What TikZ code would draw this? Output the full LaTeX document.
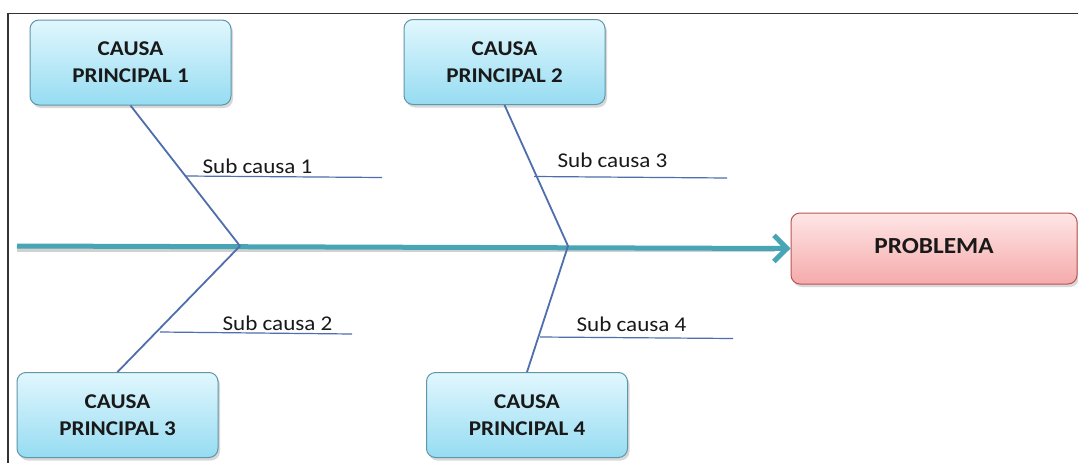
\documentclass[tikz,border=0pt]{standalone}
\usepackage{fontspec}
\setmainfont[FakeStretch=1.1]{Carlito}
\usetikzlibrary{arrows.meta,shadows,calc}
\definecolor{boxborder}{RGB}{95,150,170}
\definecolor{boxtop}{RGB}{225,247,253}
\definecolor{boxbot}{RGB}{150,220,242}
\definecolor{probborder}{RGB}{185,85,85}
\definecolor{probtop}{RGB}{255,230,230}
\definecolor{probbot}{RGB}{245,170,170}
\definecolor{spine}{RGB}{72,165,182}
\definecolor{bone}{RGB}{78,110,172}
\definecolor{txt}{RGB}{25,25,25}
\tikzset{
  causebox/.style={draw=boxborder, line width=1pt, rounded corners=9pt,
    top color=boxtop, bottom color=boxbot, minimum width=201pt, minimum height=85pt,
    align=center, text=txt, font=\fontsize{21}{28}\selectfont\bfseries,
    drop shadow={shadow xshift=2pt, shadow yshift=-3pt, opacity=0.3}},
  probbox/.style={causebox, draw=probborder, top color=probtop, bottom color=probbot,
    minimum width=286pt, minimum height=71pt, font=\fontsize{23}{28}\selectfont\bfseries},
  boneline/.style={draw=bone, line width=1.8pt},
  subline/.style={draw=bone, line width=1.2pt},
  sublabel/.style={font=\fontsize{21}{24}\selectfont, text=txt, inner sep=0pt},
  spineline/.style={draw=spine, line width=5pt,
    -{Straight Barb[length=13pt, width=26pt, line width=5pt]}},
  spineshadow/.style={draw=black, opacity=0.18, line width=5pt},
}
\begin{document}
\begin{tikzpicture}[x=1pt, y=-1pt]
\useasboundingbox (0,0) rectangle (1078,463);
\fill[white] (0,0) rectangle (1078,463);
% frame
\draw[black!80, line width=1.5pt] (8,463) -- (8,13.5) -- (1078,13.5);
% nodes
\node[causebox] (cp1) at (130.5,62.5) {CAUSA\\[-1pt]PRINCIPAL 1};
\node[causebox] (cp2) at (504.5,62) {CAUSA\\[-1pt]PRINCIPAL 2};
\node[causebox] (cp3) at (117.5,415) {CAUSA\\[-1pt]PRINCIPAL 3};
\node[causebox] (cp4) at (527,415) {CAUSA\\[-1pt]PRINCIPAL 4};
\node[probbox] (prob) at (934,248.5) {\raisebox{6pt}{PROBLEMA}};
% junctions
\coordinate (start) at (17,246);
\coordinate (startsh) at (17,249);
\coordinate (endsh) at (775,249);
\coordinate (j1) at (240,246);
\coordinate (j2) at (568,246);
% spine
\draw[spineshadow] (startsh) -- (endsh);
\draw[spineline] (start) -- (prob.west);
% bones
\draw[boneline] (cp1.south) -- (j1);
\draw[boneline] (cp2.south) -- (j2);
\draw[boneline] (cp3.north) -- (j1);
\draw[boneline] (cp4.north) -- (j2);
% sub causes
\coordinate (s1a) at (185,176); \coordinate (s1b) at (382,177.5);
\coordinate (s3a) at (534,176.5); \coordinate (s3b) at (727,178);
\coordinate (s2a) at (160,332); \coordinate (s2b) at (352,334);
\coordinate (s4a) at (540,337); \coordinate (s4b) at (733,338.5);
\draw[subline] (s1a) -- (s1b);
\draw[subline] (s3a) -- (s3b);
\draw[subline] (s2a) -- (s2b);
\draw[subline] (s4a) -- (s4b);
\node[sublabel] (l1) at (257.5,166) {Sub causa 1};
\node[sublabel] (l3) at (612.5,160) {Sub causa 3};
\node[sublabel] (l2) at (277.5,323.5) {Sub causa 2};
\node[sublabel] (l4) at (631.5,324) {Sub causa 4};
\end{tikzpicture}
\end{document}
